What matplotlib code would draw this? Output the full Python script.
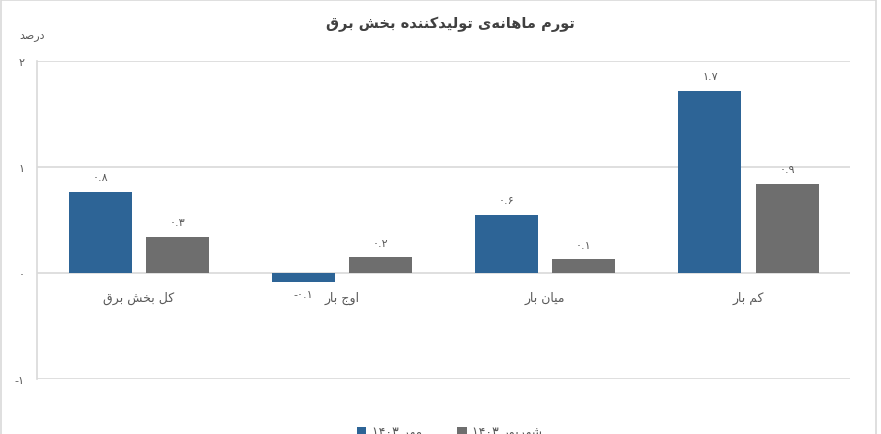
import re

import matplotlib
matplotlib.use("Agg")
from matplotlib import pyplot as plt
from matplotlib.patches import Rectangle

# data
categories = ['کل بخش برق', 'اوج بار', 'میان بار', 'کم بار']
mehr_values = [0.77, -0.08, 0.55, 1.72]
shahrivar_values = [0.34, 0.15, 0.13, 0.84]
mehr_labels = ['0.8', '-0.1', '0.6', '1.7']
shahrivar_labels = ['0.3', '0.2', '0.1', '0.9']
series_names = ['مهر ۱۴۰۳', 'شهریور ۱۴۰۳']
y_ticks = [-1, 0, 1, 2]
title = 'تورم ماهانه‌ی تولیدکننده بخش برق'
unit = 'درصد'

BLUE = '#2d6496'
GREY = '#6e6e6e'
TEXT = '#595959'

# isolated, final, initial, medial
FORMS = {
    'ا': ('\uFE8D', '\uFE8E', None, None),
    'ب': ('\uFE8F', '\uFE90', '\uFE91', '\uFE92'),
    'ت': ('\uFE95', '\uFE96', '\uFE97', '\uFE98'),
    'ج': ('\uFE9D', '\uFE9E', '\uFE9F', '\uFEA0'),
    'خ': ('\uFEA5', '\uFEA6', '\uFEA7', '\uFEA8'),
    'د': ('\uFEA9', '\uFEAA', None, None),
    'ر': ('\uFEAD', '\uFEAE', None, None),
    'ش': ('\uFEB5', '\uFEB6', '\uFEB7', '\uFEB8'),
    'ص': ('\uFEB9', '\uFEBA', '\uFEBB', '\uFEBC'),
    'ق': ('\uFED5', '\uFED6', '\uFED7', '\uFED8'),
    'ل': ('\uFEDD', '\uFEDE', '\uFEDF', '\uFEE0'),
    'م': ('\uFEE1', '\uFEE2', '\uFEE3', '\uFEE4'),
    'ن': ('\uFEE5', '\uFEE6', '\uFEE7', '\uFEE8'),
    'ه': ('\uFEE9', '\uFEEA', '\uFEEB', '\uFEEC'),
    'و': ('\uFEED', '\uFEEE', None, None),
    'ی': ('\uFBFC', '\uFBFD', '\uFBFE', '\uFBFF'),
    'ک': ('\uFB8E', '\uFB8F', '\uFB90', '\uFB91'),
}


def fa_digits(s):
    return s.translate(str.maketrans('0123456789', '۰۱۲۳۴۵۶۷۸۹'))


def rtl(text):
    # poor man's reshaper + bidi, matplotlib has no complex text layout
    out = []
    for i, c in enumerate(text):
        if c not in FORMS:
            if c != '\u200c':
                out.append(c)
            continue
        prev = text[i - 1] if i > 0 else None
        nxt = text[i + 1] if i + 1 < len(text) else None
        join_prev = prev in FORMS and FORMS[prev][2] is not None
        join_next = nxt in FORMS and FORMS[c][2] is not None
        f = FORMS[c]
        if join_prev and join_next:
            out.append(f[3])
        elif join_prev:
            out.append(f[1])
        elif join_next:
            out.append(f[2])
        else:
            out.append(f[0])
    visual = ''.join(out)[::-1]
    return re.sub('[0-9۰-۹.]+', lambda m: m.group(0)[::-1], visual)


plt.rcParams['font.family'] = ['DejaVu Sans']

fig = plt.figure(figsize=(8.81, 4.35), dpi=100)
fig.patches.append(Rectangle((0.001, -0.01), 0.993, 1.008, transform=fig.transFigure,
                             fill=False, edgecolor='#d9d9d9', linewidth=1.2))
ax = fig.add_axes([0.042, 0.126, 0.923, 0.731])

x = list(range(len(categories)))
width = 0.31
off = 0.19
bars1 = ax.bar([i - off for i in x], mehr_values, width, color=BLUE, zorder=3)
bars2 = ax.bar([i + off for i in x], shahrivar_values, width, color=GREY, zorder=3)

for bars, labels in [(bars1, mehr_labels), (bars2, shahrivar_labels)]:
    for b, lab in zip(bars, labels):
        h = b.get_height()
        cx = b.get_x() + b.get_width() / 2
        if h >= 0:
            ax.annotate(fa_digits(lab), (cx, h), xytext=(0, 7), textcoords='offset points',
                        ha='center', va='bottom', fontsize=8, color=TEXT)
        else:
            ax.annotate(fa_digits(lab), (cx, h), xytext=(0, -5), textcoords='offset points',
                        ha='center', va='top', fontsize=8, color=TEXT)

for i, cat in zip(x, categories):
    ax.annotate(rtl(cat), (i, 0), xytext=(0, -13), textcoords='offset points',
                ha='center', va='top', fontsize=9, color=TEXT)

ax.set_xlim(-0.5, len(categories) - 0.5)
ax.set_ylim(-1, 2)
ax.set_yticks(y_ticks)
ax.set_yticklabels([fa_digits(str(t)) for t in y_ticks], fontsize=8, color=TEXT)
ax.set_xticks([])
ax.tick_params(axis='y', length=0, pad=9)
ax.grid(axis='y', color='#d9d9d9', linewidth=1.2, zorder=0)
for side in ['top', 'right', 'bottom']:
    ax.spines[side].set_visible(False)
ax.spines['left'].set_color('#d9d9d9')
ax.spines['left'].set_linewidth(1.2)

fig.text(0.511, 0.943, rtl(title), ha='center', va='center', fontsize=10.5,
         fontweight='bold', color='#404040')
fig.text(0.037, 0.917, rtl(unit), ha='center', va='center', fontsize=8, color=TEXT)

# legend along the bottom edge, cut off like in the original
for xpos, color, name in [(0.405, BLUE, series_names[0]), (0.519, GREY, series_names[1])]:
    fig.patches.append(Rectangle((xpos, -0.006), 0.011, 0.022, transform=fig.transFigure,
                                 facecolor=color, edgecolor='none'))
    fig.text(xpos + 0.017, 0.005, rtl(name), ha='left', va='center', fontsize=9, color=TEXT)

fig.savefig('out.png', dpi=100)
